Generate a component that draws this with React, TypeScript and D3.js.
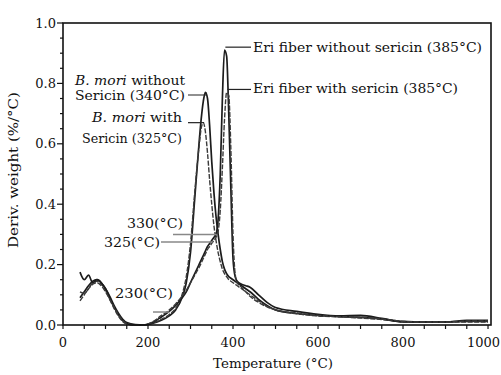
import React from 'react';
import * as d3 from 'd3';

// Temperature grid (°C) shared by all four DTG curves
const temps = [40, 50, 60, 70, 80, 90, 100, 110, 120, 130, 140, 150, 170, 190, 210, 230, 250, 265, 280, 290, 300, 310, 320, 325, 330, 335, 340, 345, 350, 355, 360, 365, 370, 375, 380, 385, 390, 395, 400, 405, 410, 420, 430, 440, 460, 480, 500, 550, 600, 650, 700, 750, 800, 850, 900, 950, 1000];

// Deriv. weight (%/°C)
const moriWithout = [0.09, 0.11, 0.13, 0.145, 0.15, 0.14, 0.12, 0.09, 0.06, 0.035, 0.015, 0.005, 0.0, 0.0, 0.005, 0.015, 0.03, 0.05, 0.09, 0.14, 0.24, 0.42, 0.6, 0.68, 0.74, 0.77, 0.75, 0.66, 0.54, 0.44, 0.36, 0.3, 0.25, 0.21, 0.185, 0.17, 0.16, 0.155, 0.15, 0.145, 0.14, 0.13, 0.12, 0.11, 0.085, 0.065, 0.05, 0.038, 0.032, 0.028, 0.025, 0.02, 0.012, 0.01, 0.01, 0.012, 0.012];
const moriWith = [0.11, 0.105, 0.12, 0.14, 0.145, 0.135, 0.115, 0.085, 0.055, 0.03, 0.012, 0.004, 0.0, 0.0, 0.006, 0.018, 0.035, 0.055, 0.1, 0.16, 0.27, 0.44, 0.59, 0.65, 0.67, 0.64, 0.57, 0.48, 0.4, 0.33, 0.28, 0.24, 0.21, 0.185, 0.17, 0.16, 0.15, 0.145, 0.14, 0.135, 0.13, 0.12, 0.11, 0.1, 0.08, 0.062, 0.05, 0.037, 0.03, 0.027, 0.023, 0.018, 0.011, 0.01, 0.01, 0.01, 0.01];
const eriWithout = [0.175, 0.15, 0.165, 0.14, 0.15, 0.14, 0.12, 0.095, 0.065, 0.04, 0.02, 0.008, 0.001, 0.0, 0.008, 0.025, 0.045, 0.065, 0.09, 0.11, 0.14, 0.17, 0.2, 0.215, 0.23, 0.245, 0.26, 0.27, 0.28, 0.29, 0.3, 0.35, 0.5, 0.75, 0.91, 0.89, 0.7, 0.45, 0.22, 0.16, 0.145, 0.135, 0.13, 0.125, 0.1, 0.075, 0.058, 0.045, 0.035, 0.03, 0.032, 0.022, 0.01, 0.01, 0.01, 0.015, 0.015];
const eriWith = [0.08, 0.1, 0.12, 0.135, 0.14, 0.13, 0.11, 0.085, 0.06, 0.035, 0.015, 0.005, 0.0, 0.0, 0.01, 0.03, 0.05, 0.07, 0.095, 0.115, 0.14, 0.165, 0.19, 0.205, 0.22, 0.235, 0.25, 0.26, 0.27, 0.28, 0.29, 0.31, 0.38, 0.52, 0.68, 0.77, 0.76, 0.58, 0.3, 0.17, 0.14, 0.125, 0.11, 0.095, 0.075, 0.06, 0.05, 0.04, 0.032, 0.028, 0.026, 0.02, 0.012, 0.01, 0.01, 0.013, 0.013];

const xTicks = [0, 200, 400, 600, 800, 1000];
const yTicks = [0, 0.2, 0.4, 0.6, 0.8, 1.0];

const W = 501;
const H = 375;
const left = 63;
const right = 491;
const top = 23;
const bottom = 325;
const font = '"DejaVu Serif", "Liberation Serif", serif';

const x = d3.scaleLinear().domain([0, 1007]).range([left, right]);
const y = d3.scaleLinear().domain([0, 1]).range([bottom, top]);

const series = [
  { values: moriWithout, stroke: '#1c1c1c', width: 1.7, dash: undefined },
  { values: moriWith, stroke: '#3a3a3a', width: 1.4, dash: '5,1.5' },
  { values: eriWithout, stroke: '#1c1c1c', width: 1.7, dash: undefined },
  { values: eriWith, stroke: '#3a3a3a', width: 1.4, dash: '5,1.5' },
];

const line = d3
  .line<number>()
  .x((_, i) => x(temps[i]))
  .y((v) => y(v))
  .curve(d3.curveMonotoneX);

const App: React.FC = () => {
  const minorX = d3.range(0, 1001, 50);
  const minorY = d3.range(0, 1.001, 0.05);
  const fit = { lengthAdjust: 'spacingAndGlyphs' as const };

  return (
    <svg
      width={W}
      height={H}
      style={{ position: 'absolute', left: 0, top: 0, background: '#fff' }}
      fontFamily={font}
    >
      <rect x={0} y={0} width={W} height={H} fill="#fff" />

      {/* curves */}
      {series.map((s, i) => (
        <path
          key={i}
          d={line(s.values) || ''}
          fill="none"
          stroke={s.stroke}
          strokeWidth={s.width}
          strokeDasharray={s.dash}
          strokeLinejoin="round"
        />
      ))}

      {/* frame */}
      <rect x={left} y={top} width={right - left} height={bottom - top} fill="none" stroke="#111" strokeWidth={1.6} />

      {/* y axis ticks */}
      {minorY.map((t, i) => (
        <line key={'my' + i} x1={left} x2={left - (i % 4 === 0 ? 6 : 3)} y1={y(t)} y2={y(t)} stroke="#111" strokeWidth={1.2} />
      ))}
      {yTicks.map((t) => (
        <text key={'yt' + t} x={56} y={y(t)} dy="0.35em" textAnchor="end" fontSize={13} fill="#111">
          {d3.format('.1f')(t)}
        </text>
      ))}

      {/* x axis ticks */}
      {minorX.map((t) => (
        <line key={'mx' + t} x1={x(t)} x2={x(t)} y1={bottom} y2={bottom + 4} stroke="#111" strokeWidth={1.2} />
      ))}
      {xTicks.map((t) => (
        <text
          key={'xt' + t}
          x={t === 1000 ? 500 : x(t)}
          y={347}
          textAnchor={t === 1000 ? 'end' : 'middle'}
          fontSize={13}
          fill="#111"
        >
          {t}
        </text>
      ))}

      {/* axis titles */}
      <text x={273} y={368} textAnchor="middle" fontSize={13} fill="#111" textLength={120} {...fit}>
        Temperature (°C)
      </text>
      <text transform="translate(18,170) rotate(-90)" textAnchor="middle" fontSize={13.5} fill="#111" textLength={156} {...fit}>
        Deriv. weight (%/°C)
      </text>

      {/* annotations */}
      <g fontSize={13} fill="#111">
        <text x={75} y={85} textLength={110} {...fit}>
          <tspan fontStyle="italic">B. mori</tspan> without
        </text>
        <text x={75} y={100} textLength={110} {...fit}>Sericin (340°C)</text>
        <text x={92} y={122} textLength={90} {...fit}>
          <tspan fontStyle="italic">B. mori</tspan> with
        </text>
        <text x={82} y={143} textLength={100} {...fit}>Sericin (325°C)</text>
        <text x={253} y={52} textLength={229} {...fit}>Eri fiber without sericin (385°C)</text>
        <text x={253} y={93} textLength={205} {...fit}>Eri fiber with sericin (385°C)</text>
        <text x={127} y={228} textLength={56} {...fit}>330(°C)</text>
        <text x={104} y={247} textLength={56} {...fit}>325(°C)</text>
        <text x={115} y={298} textLength={58} {...fit}>230(°C)</text>
      </g>
      <g stroke="#222" strokeWidth={1.2} fill="none">
        <polyline points={`188,95 ${x(337)},95 ${x(337)},${y(0.77)}`} />
        <line x1={188} x2={x(332)} y1={y(0.67)} y2={y(0.67)} />
        <line x1={x(382)} x2={251} y1={y(0.92)} y2={y(0.92)} />
        <line x1={x(387)} x2={251} y1={y(0.78)} y2={y(0.78)} />
      </g>
      <g stroke="#888" strokeWidth={1.5}>
        <line x1={173} x2={x(362)} y1={y(0.3)} y2={y(0.3)} />
        <line x1={161} x2={x(352)} y1={y(0.275)} y2={y(0.275)} />
        <line x1={153} x2={x(250)} y1={y(0.043)} y2={y(0.043)} />
      </g>
    </svg>
  );
};

export default App;
